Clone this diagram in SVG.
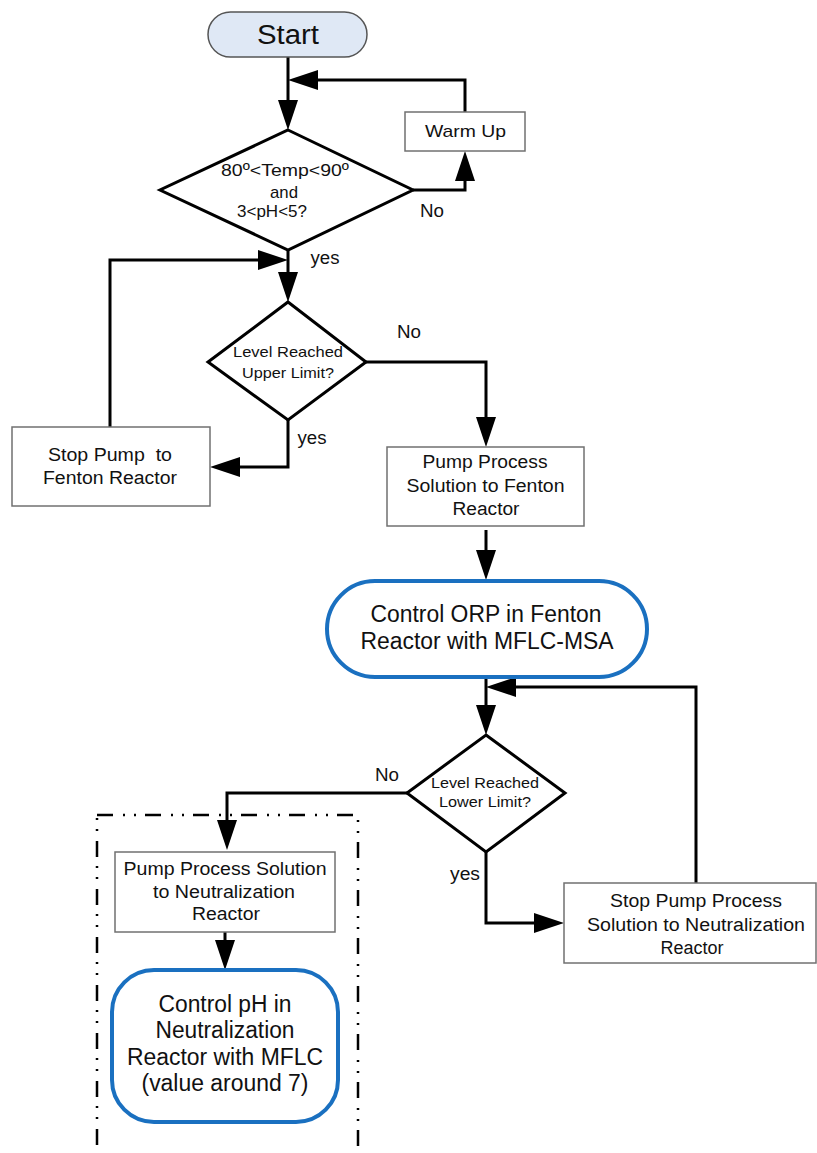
<svg xmlns="http://www.w3.org/2000/svg" width="817" height="1153" viewBox="0 0 817 1153">
<style>
text{font-family:"Liberation Sans",Arial,sans-serif;fill:#111;text-anchor:middle}
.box{fill:#fff;stroke:#707070;stroke-width:1.5}
.dia{fill:#fff;stroke:#000;stroke-width:3}
.blue{fill:#fff;stroke:#1a70c0;stroke-width:4}
.con{fill:none;stroke:#000;stroke-width:3;marker-end:url(#ah)}
.t27{font-size:27px}
.t17{font-size:17px}
.t18{font-size:18px}
.t175{font-size:17.5px}
.t15{font-size:15px}
.t23{font-size:23px}
.pre{white-space:pre}
</style>
<defs>
<marker id="ah" viewBox="0 0 30 20" markerWidth="30" markerHeight="20" refX="0" refY="10" orient="auto" markerUnits="userSpaceOnUse">
<path d="M0,0 L30,10 L0,20 z" fill="#000"/>
</marker>
</defs>
<rect x="0" y="0" width="817" height="1153" fill="#fff"/>

<g id="group-neutralization">
<rect x="97" y="815" width="261" height="360" fill="none" stroke="#000" stroke-width="2.5" stroke-dasharray="16 10 2 9 2 9"/>
</g>

<g id="connectors">
<path class="con" d="M288,57 V100"/>
<path class="con" d="M413,190 H465 V181"/>
<path class="con" d="M465,112 V80 H318"/>
<path class="con" d="M288,250 V272"/>
<path class="con" d="M110,427 V260 H258"/>
<path class="con" d="M366,362 H486 V417"/>
<path class="con" d="M288,420 V467 H240"/>
<path class="con" d="M486,530 V550"/>
<path class="con" d="M486,677 V705"/>
<path class="con" d="M696,883 V687 H516"/>
<path class="con" d="M407,793 H227 V820"/>
<path class="con" d="M486,852 V923 H534"/>
<path class="con" d="M225,932 V940"/>
</g>

<g id="start">
<rect x="208" y="12" width="159" height="45" rx="22.5" fill="#dfe8f5" stroke="#555" stroke-width="1.5"/>
<text class="t27" x="288" y="44" textLength="62" lengthAdjust="spacingAndGlyphs">Start</text>
</g>

<g id="warm-up">
<rect class="box" x="405" y="112" width="120" height="39"/>
<text class="t17" x="465.5" y="137" textLength="81" lengthAdjust="spacingAndGlyphs">Warm Up</text>
</g>

<g id="decision-temp">
<polygon class="dia" points="288,130 413,190 288,250 160,190"/>
<text class="t17" x="285" y="176" textLength="128" lengthAdjust="spacingAndGlyphs">80º&lt;Temp&lt;90º</text>
<text class="t17" x="284" y="198" textLength="28" lengthAdjust="spacingAndGlyphs">and</text>
<text class="t17" x="272" y="217" textLength="70" lengthAdjust="spacingAndGlyphs">3&lt;pH&lt;5?</text>
</g>

<g id="labels">
<text class="t18" x="432" y="217" textLength="24" lengthAdjust="spacingAndGlyphs">No</text>
<text class="t18" x="325" y="264" textLength="29" lengthAdjust="spacingAndGlyphs">yes</text>
<text class="t18" x="409" y="338" textLength="24" lengthAdjust="spacingAndGlyphs">No</text>
<text class="t18" x="312" y="444" textLength="29" lengthAdjust="spacingAndGlyphs">yes</text>
<text class="t18" x="387" y="781" textLength="24" lengthAdjust="spacingAndGlyphs">No</text>
<text class="t18" x="465" y="880" textLength="30" lengthAdjust="spacingAndGlyphs">yes</text>
</g>

<g id="decision-upper">
<polygon class="dia" points="288,302 366,362 288,420 208,362"/>
<text class="t15" x="288" y="357" textLength="110" lengthAdjust="spacingAndGlyphs">Level Reached</text>
<text class="t15" x="288" y="378" textLength="92" lengthAdjust="spacingAndGlyphs">Upper Limit?</text>
</g>

<g id="stop-pump-fenton">
<rect class="box" x="12" y="427" width="198" height="79"/>
<text class="t18 pre" x="110" y="461" textLength="124" lengthAdjust="spacingAndGlyphs">Stop Pump  to</text>
<text class="t18" x="110" y="484" textLength="134" lengthAdjust="spacingAndGlyphs">Fenton Reactor</text>
</g>

<g id="pump-fenton">
<rect class="box" x="387" y="447" width="197" height="79"/>
<text class="t18" x="485" y="468" textLength="125" lengthAdjust="spacingAndGlyphs">Pump Process</text>
<text class="t18" x="485.5" y="492" textLength="158" lengthAdjust="spacingAndGlyphs">Solution to Fenton</text>
<text class="t18" x="486" y="515" textLength="67" lengthAdjust="spacingAndGlyphs">Reactor</text>
</g>

<g id="control-orp">
<rect class="blue" x="327" y="581" width="320" height="96" rx="48"/>
<text class="t23" x="486" y="622" textLength="231" lengthAdjust="spacingAndGlyphs">Control ORP in Fenton</text>
<text class="t23" x="487" y="649" textLength="253" lengthAdjust="spacingAndGlyphs">Reactor with MFLC-MSA</text>
</g>

<g id="decision-lower">
<polygon class="dia" points="486,735 565,793 486,852 407,793"/>
<text class="t15" x="485" y="788" textLength="108" lengthAdjust="spacingAndGlyphs">Level Reached</text>
<text class="t15" x="485" y="807" textLength="92" lengthAdjust="spacingAndGlyphs">Lower Limit?</text>
</g>

<g id="stop-pump-neutralization">
<rect class="box" x="564" y="883" width="252" height="80"/>
<text class="t18" x="696" y="907" textLength="172" lengthAdjust="spacingAndGlyphs">Stop Pump Process</text>
<text class="t18" x="696" y="931" textLength="218" lengthAdjust="spacingAndGlyphs">Solution to Neutralization</text>
<text class="t18" x="692" y="954" textLength="63" lengthAdjust="spacingAndGlyphs">Reactor</text>
</g>

<g id="pump-neutralization">
<rect class="box" x="115" y="852" width="220" height="80"/>
<text class="t175" x="225" y="875" textLength="203" lengthAdjust="spacingAndGlyphs">Pump Process Solution</text>
<text class="t175" x="224" y="898" textLength="142" lengthAdjust="spacingAndGlyphs">to Neutralization</text>
<text class="t175" x="226" y="920" textLength="68" lengthAdjust="spacingAndGlyphs">Reactor</text>
</g>

<g id="control-ph">
<rect class="blue" x="112" y="970" width="226" height="152" rx="42"/>
<text class="t23" x="225" y="1012" textLength="133" lengthAdjust="spacingAndGlyphs">Control pH in</text>
<text class="t23" x="225" y="1038" textLength="139" lengthAdjust="spacingAndGlyphs">Neutralization</text>
<text class="t23" x="225" y="1065" textLength="196" lengthAdjust="spacingAndGlyphs">Reactor with MFLC</text>
<text class="t23" x="225" y="1091" textLength="167" lengthAdjust="spacingAndGlyphs">(value around 7)</text>
</g>
</svg>
